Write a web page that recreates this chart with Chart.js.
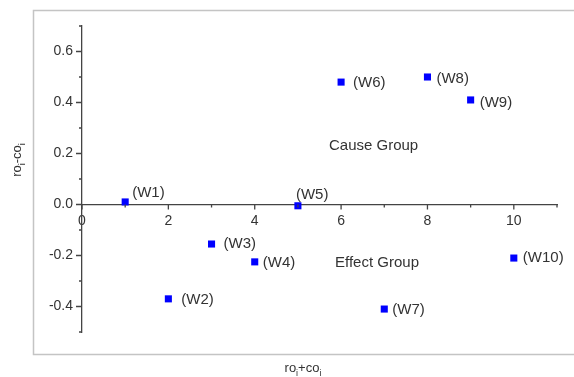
<!DOCTYPE html>
<html>
<head>
<meta charset="utf-8">
<script src="https://cdn.jsdelivr.net/npm/chart.js@4/dist/chart.umd.min.js"></script>
<style>
  html, body { margin: 0; padding: 0; background: #fff; }
  #wrap { width: 574px; height: 377px; }
</style>
</head>
<body>
<div id="wrap"><canvas id="causeChart" width="574" height="377"></canvas></div>
<script>
// values
const pointNames = ['(W1)', '(W2)', '(W3)', '(W4)', '(W5)', '(W6)', '(W7)', '(W8)', '(W9)', '(W10)'];
const sumValues = [1, 2, 3, 4, 5, 6, 7, 8, 9, 10];              // ro_i + co_i
const diffValues = [0.01, -0.37, -0.155, -0.225, -0.005, 0.48, -0.41, 0.5, 0.41, -0.21]; // ro_i - co_i

const xTicks = [0, 2, 4, 6, 8, 10];
const xMinorTicks = [1, 3, 5, 7, 9, 11];
const yTicks = [-0.4, -0.2, 0, 0.2, 0.4, 0.6];
const yMinorTicks = [-0.5, -0.3, -0.1, 0.1, 0.3, 0.5, 0.7];

const groupNames = ['Cause Group', 'Effect Group'];
const groupX = [5.72, 5.86];
const groupY = [0.23, -0.227];

// pixel nudges of each point label (dx, dy)
const labelNudge = [[7, -9], [13, 1], [12, 0], [8, 1], [-2, -11], [12, 1], [8, 1], [9, 2], [9, 3], [9, 0]];

const textColor = '#333';
const axisColor = '#444';
const fontFamily = '"Liberation Sans", Arial, sans-serif';

const extrasPlugin = {
    id: 'extras',
    beforeDraw(chart) {
        const ctx = chart.ctx;
        ctx.save();
        ctx.strokeStyle = '#c4c4c4';
        ctx.lineWidth = 1.5;
        ctx.beginPath();
        ctx.moveTo(590, 10.5);
        ctx.lineTo(33.5, 10.5);
        ctx.lineTo(33.5, 354.5);
        ctx.lineTo(590, 354.5);
        ctx.stroke();
        ctx.restore();
    },
    afterDraw(chart) {
        const ctx = chart.ctx;
        const xs = chart.scales.x;
        const ys = chart.scales.y;
        const x0 = xs.getPixelForValue(0);
        const y0 = ys.getPixelForValue(0);

        ctx.save();
        // tick marks
        ctx.strokeStyle = axisColor;
        ctx.lineWidth = 1.3;
        ctx.beginPath();
        xTicks.forEach(v => {
            const px = xs.getPixelForValue(v);
            ctx.moveTo(px, y0);
            ctx.lineTo(px, y0 + 5);
        });
        xMinorTicks.forEach(v => {
            const px = xs.getPixelForValue(v);
            ctx.moveTo(px, y0);
            ctx.lineTo(px, y0 + 3);
        });
        yTicks.forEach(v => {
            const py = ys.getPixelForValue(v);
            ctx.moveTo(x0, py);
            ctx.lineTo(x0 - 6, py);
        });
        yMinorTicks.forEach(v => {
            const py = ys.getPixelForValue(v);
            ctx.moveTo(x0, py);
            ctx.lineTo(x0 - 3, py);
        });
        ctx.stroke();

        // y tick labels (left of the axis line)
        ctx.fillStyle = textColor;
        ctx.font = '14px ' + fontFamily;
        ctx.textAlign = 'right';
        ctx.textBaseline = 'middle';
        yTicks.forEach(v => {
            ctx.fillText(v.toFixed(1), x0 - 9, ys.getPixelForValue(v));
        });

        // point labels
        const meta = chart.getDatasetMeta(0);
        ctx.font = '15px ' + fontFamily;
        ctx.textAlign = 'left';
        meta.data.forEach((pt, i) => {
            ctx.fillText(pointNames[i], pt.x + labelNudge[i][0], pt.y + labelNudge[i][1]);
        });

        // group captions
        groupNames.forEach((g, i) => {
            ctx.fillText(g, xs.getPixelForValue(groupX[i]), ys.getPixelForValue(groupY[i]));
        });

        // axis titles with subscripts
        const setFont = p => { ctx.font = (p.sub ? '9px ' : '13px ') + fontFamily; };
        const measureSub = parts => {
            let w = 0;
            parts.forEach(p => { setFont(p); w += ctx.measureText(p.t).width; });
            return w;
        };
        const drawSub = (parts, x, y) => {
            let cx = x;
            parts.forEach(p => {
                setFont(p);
                ctx.fillText(p.t, cx, y + (p.sub ? 4 : 0));
                cx += ctx.measureText(p.t).width;
            });
        };
        const xTitle = [{t: 'ro'}, {t: 'i', sub: true}, {t: '+co'}, {t: 'i', sub: true}];
        const yTitle = [{t: 'ro'}, {t: 'i', sub: true}, {t: '-co'}, {t: 'i', sub: true}];
        ctx.textBaseline = 'alphabetic';
        drawSub(xTitle, 303 - measureSub(xTitle) / 2, 372);

        ctx.translate(21, 160);
        ctx.rotate(-Math.PI / 2);
        drawSub(yTitle, -measureSub(yTitle) / 2, 0);
        ctx.restore();
    }
};

new Chart(document.getElementById('causeChart'), {
    type: 'scatter',
    data: {
        datasets: [{
            label: 'ro-co',
            data: sumValues.map((x, i) => ({ x: x, y: diffValues[i] })),
            backgroundColor: '#0000ff',
            borderColor: '#0000ff',
            borderWidth: 0,
            pointStyle: 'rect',
            pointRadius: 5,
            pointHoverRadius: 5
        }]
    },
    options: {
        responsive: false,
        animation: false,
        layout: {
            padding: { left: 82, right: 17, top: 26, bottom: 45 }
        },
        plugins: {
            legend: { display: false },
            tooltip: { enabled: false }
        },
        scales: {
            x: {
                type: 'linear',
                min: 0,
                max: 11,
                position: { y: 0 },
                afterBuildTicks: scale => { scale.ticks = xTicks.map(v => ({ value: v })); },
                grid: { display: true, drawOnChartArea: false, drawTicks: false },
                border: { display: true, color: axisColor, width: 1.3 },
                ticks: {
                    color: textColor,
                    padding: 8,
                    font: { family: fontFamily, size: 14 },
                    maxRotation: 0,
                    callback: v => String(v)
                }
            },
            y: {
                type: 'linear',
                min: -0.5,
                max: 0.7,
                position: { x: 0 },
                afterBuildTicks: scale => { scale.ticks = yTicks.map(v => ({ value: v })); },
                grid: { display: true, drawOnChartArea: false, drawTicks: false },
                border: { display: true, color: axisColor, width: 1.3 },
                ticks: { display: false }
            }
        }
    },
    plugins: [extrasPlugin]
});
</script>
</body>
</html>
